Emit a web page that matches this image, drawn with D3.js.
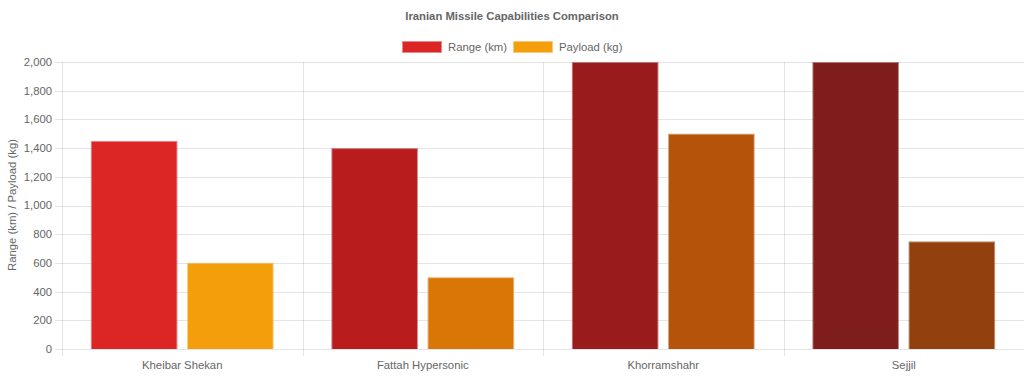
<!DOCTYPE html>
<html><head><meta charset="utf-8">
<script src="https://cdn.jsdelivr.net/npm/d3@7"></script>
<style>body{margin:0;background:#fff}svg{display:block;font-family:"Liberation Sans",Arial,sans-serif}</style>
</head><body><svg id="c" width="1024" height="376"></svg>
<script>
const categories = ["Kheibar Shekan", "Fattah Hypersonic", "Khorramshahr", "Sejjil"];
const rangeKm = [1450, 1400, 2000, 2000];
const payloadKg = [600, 500, 1500, 750];
const rangeColors = ["#dc2626", "#b91c1c", "#991b1b", "#7f1d1d"];
const payloadColors = ["#f59e0b", "#d97706", "#b45309", "#92400e"];
const seriesNames = ["Range (km)", "Payload (kg)"];
const yTicks = [0, 200, 400, 600, 800, 1000, 1200, 1400, 1600, 1800, 2000];

const FS = 11.3;
const svg = d3.select("#c");
const L = 62, R = 1024, T = 62, B = 349;
const x = d3.scaleBand().domain(categories).range([L, R]).paddingInner(0).paddingOuter(0);
const y = d3.scaleLinear().domain([0, 2000]).range([B, T]);
const grid = "rgba(0,0,0,0.1)", txt = "#666";

// horizontal gridlines
svg.append("g").selectAll("line").data(yTicks).join("line")
  .attr("x1", L - 7).attr("x2", R).attr("y1", d => Math.round(y(d)) + 0.5).attr("y2", d => Math.round(y(d)) + 0.5)
  .attr("stroke", grid);
// vertical gridlines
const vx = categories.map(c => x(c));
svg.append("g").selectAll("line").data(vx).join("line")
  .attr("x1", d => Math.round(d) + 0.5).attr("x2", d => Math.round(d) + 0.5)
  .attr("y1", T).attr("y2", B + 7).attr("stroke", grid);

// y tick labels
svg.append("g").selectAll("text").data(yTicks).join("text")
  .attr("x", 52).attr("y", d => y(d)).attr("dy", "0.35em").attr("text-anchor", "end")
  .attr("font-size", FS).attr("fill", txt).text(d => d3.format(",")(d));
// x labels
svg.append("g").selectAll("text").data(categories).join("text")
  .attr("x", d => x(d) + x.bandwidth() / 2).attr("y", 365).attr("dy", "0.35em").attr("text-anchor", "middle")
  .attr("font-size", FS).attr("fill", txt).text(d => d);

// bars
const catW = x.bandwidth() * 0.8, barW = catW / 2 * 0.9;
function drawBar(cx, v, col) {
  const x0 = cx - barW / 2, y0 = y(v), h = B - y0;
  svg.append("rect").attr("x", x0).attr("y", y0).attr("width", barW).attr("height", h)
    .attr("fill", col).attr("fill-opacity", 0.55);
  svg.append("rect").attr("x", x0 + 1).attr("y", y0 + 1).attr("width", barW - 2).attr("height", Math.max(0, h - 1))
    .attr("fill", col);
}
categories.forEach((c, i) => {
  const start = x(c) + x.bandwidth() * 0.1;
  drawBar(start + catW / 4, rangeKm[i], rangeColors[i]);
  drawBar(start + catW * 3 / 4, payloadKg[i], payloadColors[i]);
});

// title
svg.append("text").attr("x", 512).attr("y", 16).attr("dy", "0.35em").attr("text-anchor", "middle")
  .attr("font-size", FS).attr("font-weight", "bold").attr("fill", txt).text("Iranian Missile Capabilities Comparison");

// legend
const legCols = [rangeColors[0], payloadColors[0]];
const legX = [402, 513];
seriesNames.forEach((n, i) => {
  svg.append("rect").attr("x", legX[i]).attr("y", 41).attr("width", 40).attr("height", 12)
    .attr("fill", legCols[i]).attr("fill-opacity", 0.55);
  svg.append("rect").attr("x", legX[i] + 1).attr("y", 42).attr("width", 38).attr("height", 10).attr("fill", legCols[i]);
  svg.append("text").attr("x", legX[i] + 46).attr("y", 47).attr("dy", "0.35em").attr("font-size", FS)
    .attr("fill", txt).text(n);
});

// y axis title
svg.append("text").attr("transform", "translate(12,205) rotate(-90)").attr("dy", "0.35em")
  .attr("text-anchor", "middle").attr("font-size", FS).attr("fill", txt).text("Range (km) / Payload (kg)");
</script></body></html>
